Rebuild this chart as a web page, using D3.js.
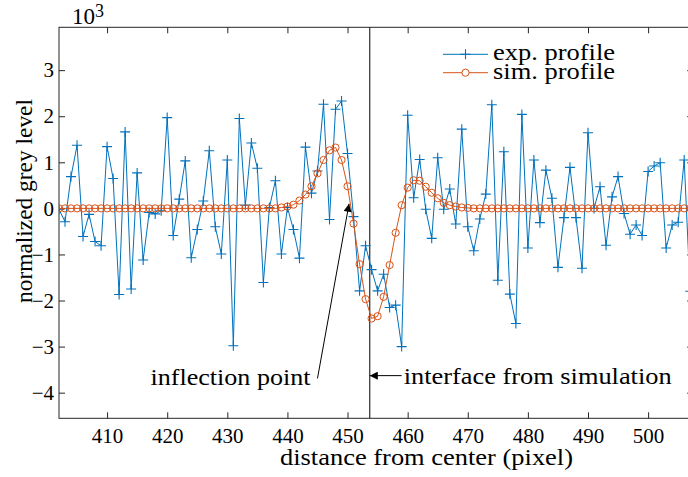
<!DOCTYPE html>
<html>
<head>
<meta charset="utf-8">
<title></title>
<style>
  body { margin: 0; background: #fff; }
  text { font-family: "Liberation Serif", serif; fill: #000; }
</style>
</head>
<body>
<svg id="chart" width="688" height="477"></svg>
<script src="https://d3js.org/d3.v7.min.js"></script>
<script>
// pixel positions along the profile
const xs = [402,403,404,405,406,407,408,409,410,411,412,413,414,415,416,417,418,419,420,421,
            422,423,424,425,426,427,428,429,430,431,432,433,434,435,436,437,438,439,440,441,
            442,443,444,445,446,447,448,449,450,451,452,453,454,455,456,457,458,459,460,461,
            462,463,464,465,466,467,468,469,470,471,472,473,474,475,476,477,478,479,480,481,
            482,483,484,485,486,487,488,489,490,491,492,493,494,495,496,497,498,499,500,501,
            502,503,504,505,506,507]

// exp. profile (x 10^3)
const expProfile = [-0.02,-0.29,0.69,1.37,-0.61,-0.13,-0.72,-0.81,1.34,0.65,-1.87,1.66,-1.75,0.77,-1.12,-0.09,-0.12,-0.05,1.97,-0.59,
                    0.20,1.03,-1.07,-0.46,0.16,1.25,-0.40,-0.99,1.05,-2.98,1.95,0.07,1.42,0.87,-1.61,0.02,0.60,-0.99,0.02,-0.46,
                    -1.08,1.33,0.33,0.81,2.26,-0.24,2.15,2.33,1.19,-0.18,-1.79,-0.81,-1.33,-1.79,-1.43,-2.15,-2.10,-3.00,2.02,0.23,
                    1.06,-0.02,-0.65,1.10,-0.02,0.42,-0.34,1.72,-0.40,-0.92,-0.23,0.31,2.25,-1.56,1.23,-1.86,-2.50,2.04,-0.86,1.05,
                    -0.31,0.83,0.22,-1.28,-0.20,0.89,-0.20,-1.30,1.64,0.00,0.47,-0.80,0.25,0.69,-0.11,-0.56,-0.36,-0.59,0.80,0.92,
                    0.99,-0.86,-0.36,-0.30,1.05,-1.80]

// sim. profile (x 10^3)
const simProfile = [0,0,0,0,0,0,0,0,0,0,0,0,0,0,0,0,0,0,0,0,
                    0,0,0,0,0,0,0,0,0,0,0,0,0,0,0,0,0,0.02,0.04,0.08,
                    0.17,0.30,0.48,0.76,1.05,1.26,1.32,1.05,0.48,-0.33,-1.21,-1.97,-2.39,-2.34,-1.92,-1.23,-0.53,0.07,0.45,0.61,
                    0.60,0.47,0.34,0.22,0.12,0.07,0.04,0.02,0.01,0,0,0,0,0,0,0,0,0,0,0,
                    0,0,0,0,0,0,0,0,0,0,0,0,0,0,0,0,0,0,0,0,
                    0,0,0,0,0,0]

const xTicks = [410,420,430,440,450,460,470,480,490,500]
const yTicks = [-4,-3,-2,-1,0,1,2,3]
const seriesNames = ["exp. profile", "sim. profile"]

const interfaceX = 453.7
// annotation arrows: [tailX, tailY, tipX, tipY] in data units
const inflectionArrow = [445.0, -3.69, 450.25, 0.1]
const interfaceArrow = [459.0, -3.63, interfaceX, -3.63]

const blue = "#0072BD"
const orange = "#D95319"
const axisColor = "#262626"

let svg = d3.select("#chart")

let x = d3.scaleLinear().domain([402, 507.5]).range([59, 693.2])
let y = d3.scaleLinear().domain([-4.556, 3.93]).range([418.3, 27.3])

let defs = svg.append("defs")
defs.append("clipPath").attr("id", "plotclip")
    .append("rect")
    .attr("x", x.range()[0]).attr("y", y.range()[1])
    .attr("width", x.range()[1] - x.range()[0])
    .attr("height", y.range()[0] - y.range()[1])

defs.append("marker")
    .attr("id", "head")
    .attr("viewBox", "0 0 10 10")
    .attr("refX", 10).attr("refY", 5)
    .attr("markerWidth", 11).attr("markerHeight", 8)
    .attr("markerUnits", "userSpaceOnUse")
    .attr("orient", "auto")
    .append("path").attr("d", "M0,0L10,5L0,10Z").attr("fill", "#000")

// axes: ticks inside, mirrored on top and right
let bottomAxis = svg.append("g")
    .attr("transform", `translate(0,${y.range()[0]})`)
    .call(d3.axisBottom(x).tickValues(xTicks).tickSize(-6).tickPadding(10).tickSizeOuter(0))
let topAxis = svg.append("g")
    .attr("transform", `translate(0,${y.range()[1]})`)
    .call(d3.axisTop(x).tickValues(xTicks).tickSize(-6).tickFormat("").tickSizeOuter(0))
let leftAxis = svg.append("g")
    .attr("transform", `translate(${x.range()[0]},0)`)
    .call(d3.axisLeft(y).tickValues(yTicks).tickSize(-6).tickPadding(5).tickSizeOuter(0))
let rightAxis = svg.append("g")
    .attr("transform", `translate(${x.range()[1]},0)`)
    .call(d3.axisRight(y).tickValues(yTicks).tickSize(-6).tickFormat("").tickSizeOuter(0))

for (let a of [bottomAxis, topAxis, leftAxis, rightAxis]) {
    a.select(".domain").remove()
    a.selectAll("line").attr("stroke", axisColor)
    a.selectAll("text").attr("font-family", "Liberation Serif").attr("font-size", 21).attr("fill", axisColor)
}

svg.append("rect")
    .attr("x", x.range()[0]).attr("y", y.range()[1])
    .attr("width", x.range()[1] - x.range()[0])
    .attr("height", y.range()[0] - y.range()[1])
    .attr("fill", "none").attr("stroke", axisColor).attr("stroke-width", 1)

// exponent
let expo = svg.append("text").attr("x", 72).attr("y", 24).attr("font-size", 23).attr("fill", axisColor)
expo.append("tspan").text("10")
expo.append("tspan").attr("dy", -7).attr("font-size", 18).text("3")

// axis labels
svg.append("text")
    .attr("x", 426.5).attr("y", 465)
    .attr("text-anchor", "middle")
    .attr("font-size", 24)
    .attr("textLength", 293).attr("lengthAdjust", "spacingAndGlyphs")
    .text("distance from center (pixel)")

svg.append("text")
    .attr("transform", "translate(32,201) rotate(-90)")
    .attr("text-anchor", "middle")
    .attr("font-size", 24)
    .attr("textLength", 204).attr("lengthAdjust", "spacingAndGlyphs")
    .text("normalized grey level")

let plot = svg.append("g").attr("clip-path", "url(#plotclip)")

// interface from simulation
plot.append("line")
    .attr("x1", x(interfaceX)).attr("x2", x(interfaceX))
    .attr("y1", y.range()[1]).attr("y2", y.range()[0])
    .attr("stroke", "#000").attr("stroke-width", 1)

let expData = xs.map((d, i) => [d, expProfile[i]])
let simData = xs.map((d, i) => [d, simProfile[i]])

let line = d3.line().x(d => x(d[0])).y(d => y(d[1]))

plot.append("path").datum(expData)
    .attr("d", line).attr("fill", "none").attr("stroke", blue).attr("stroke-width", 1)

plot.selectAll(".plus").data(expData).enter().append("path")
    .attr("class", "plus")
    .attr("transform", d => `translate(${x(d[0])},${y(d[1])})`)
    .attr("d", "M-5,0H5M0,-5V5")
    .attr("stroke", blue).attr("stroke-width", 1.1).attr("fill", "none")

plot.append("path").datum(simData)
    .attr("d", line).attr("fill", "none").attr("stroke", orange).attr("stroke-width", 1)

plot.selectAll(".circ").data(simData).enter().append("circle")
    .attr("class", "circ")
    .attr("cx", d => x(d[0])).attr("cy", d => y(d[1])).attr("r", 3.6)
    .attr("fill", "none").attr("stroke", orange).attr("stroke-width", 1)

// annotations
svg.append("line")
    .attr("x1", x(inflectionArrow[0])).attr("y1", y(inflectionArrow[1]))
    .attr("x2", x(inflectionArrow[2])).attr("y2", y(inflectionArrow[3]))
    .attr("stroke", "#000").attr("stroke-width", 1).attr("marker-end", "url(#head)")
svg.append("text")
    .attr("x", x(inflectionArrow[0]) - 7).attr("y", y(inflectionArrow[1]) + 7)
    .attr("text-anchor", "end").attr("font-size", 24)
    .attr("textLength", 160).attr("lengthAdjust", "spacingAndGlyphs")
    .text("inflection point")

svg.append("line")
    .attr("x1", x(interfaceArrow[0])).attr("y1", y(interfaceArrow[1]))
    .attr("x2", x(interfaceArrow[2])).attr("y2", y(interfaceArrow[3]))
    .attr("stroke", "#000").attr("stroke-width", 1).attr("marker-end", "url(#head)")
svg.append("text")
    .attr("x", x(interfaceArrow[0]) + 2).attr("y", y(interfaceArrow[1]) + 8)
    .attr("font-size", 24)
    .attr("textLength", 268).attr("lengthAdjust", "spacingAndGlyphs")
    .text("interface from simulation")

// legend, no box
let legend = svg.append("g")
let legendRows = [
    {name: seriesNames[0], color: blue, y: 54.3, mark: "plus"},
    {name: seriesNames[1], color: orange, y: 72.7, mark: "circle"}
]
for (let r of legendRows) {
    legend.append("line").attr("x1", 443).attr("x2", 488).attr("y1", r.y).attr("y2", r.y)
        .attr("stroke", r.color).attr("stroke-width", 1)
    if (r.mark == "plus") {
        legend.append("path").attr("transform", `translate(465.5,${r.y})`)
            .attr("d", "M-5,0H5M0,-5V5").attr("stroke", r.color).attr("stroke-width", 1.1)
    } else {
        legend.append("circle").attr("cx", 465.5).attr("cy", r.y).attr("r", 3.6)
            .attr("fill", "#fff").attr("stroke", r.color).attr("stroke-width", 1)
    }
    legend.append("text").attr("x", 493).attr("y", r.y + 6)
        .attr("font-size", 24)
        .attr("textLength", 122).attr("lengthAdjust", "spacingAndGlyphs")
        .text(r.name)
}
</script>
</body>
</html>
